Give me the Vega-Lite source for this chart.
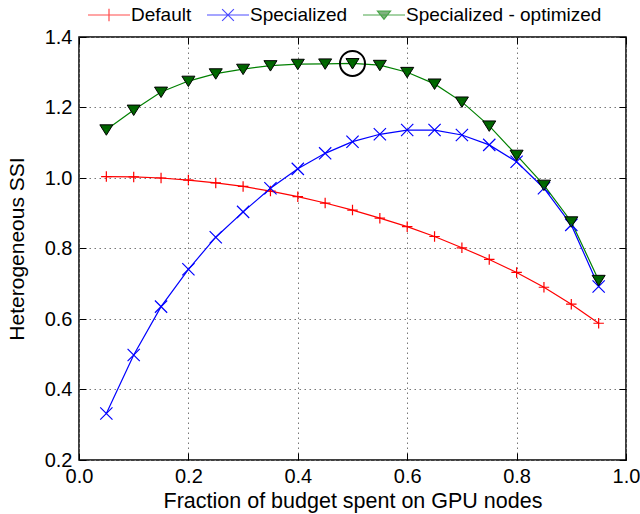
{
  "$schema": "https://vega.github.io/schema/vega-lite/v6.json",
  "width": 547,
  "height": 423,
  "autosize": {"type": "none"},
  "padding": {"left": 79, "top": 37, "right": 14, "bottom": 54},
  "background": "white",
  "config": {
    "view": {"stroke": "black", "strokeWidth": 1.5},
    "font": "Liberation Sans",
    "axis": {"labelFont": "Liberation Sans", "titleFont": "Liberation Sans", "labelColor": "black", "titleColor": "black", "titleFontWeight": "normal", "labelFlush": false},
    "legend": {"labelFont": "Liberation Sans", "symbolStrokeWidth": 1.2, "labelFontSize": 19, "labelColor": "black",
               "labelOffset": 0, "columnPadding": 12, "padding": 0, "labelLimit": 400}
  },
  "datasets": {
    "main": [
      {"x": 0.05, "y": 1.004, "s": "Default"},
      {"x": 0.10, "y": 1.003, "s": "Default"},
      {"x": 0.15, "y": 1.000, "s": "Default"},
      {"x": 0.20, "y": 0.994, "s": "Default"},
      {"x": 0.25, "y": 0.986, "s": "Default"},
      {"x": 0.30, "y": 0.976, "s": "Default"},
      {"x": 0.35, "y": 0.963, "s": "Default"},
      {"x": 0.40, "y": 0.947, "s": "Default"},
      {"x": 0.45, "y": 0.929, "s": "Default"},
      {"x": 0.50, "y": 0.909, "s": "Default"},
      {"x": 0.55, "y": 0.886, "s": "Default"},
      {"x": 0.60, "y": 0.862, "s": "Default"},
      {"x": 0.65, "y": 0.834, "s": "Default"},
      {"x": 0.70, "y": 0.802, "s": "Default"},
      {"x": 0.75, "y": 0.769, "s": "Default"},
      {"x": 0.80, "y": 0.732, "s": "Default"},
      {"x": 0.85, "y": 0.690, "s": "Default"},
      {"x": 0.90, "y": 0.642, "s": "Default"},
      {"x": 0.95, "y": 0.588, "s": "Default"},
      {"x": 0.05, "y": 0.332, "s": "Specialized"},
      {"x": 0.10, "y": 0.498, "s": "Specialized"},
      {"x": 0.15, "y": 0.635, "s": "Specialized"},
      {"x": 0.20, "y": 0.741, "s": "Specialized"},
      {"x": 0.25, "y": 0.832, "s": "Specialized"},
      {"x": 0.30, "y": 0.904, "s": "Specialized"},
      {"x": 0.35, "y": 0.971, "s": "Specialized"},
      {"x": 0.40, "y": 1.026, "s": "Specialized"},
      {"x": 0.45, "y": 1.070, "s": "Specialized"},
      {"x": 0.50, "y": 1.103, "s": "Specialized"},
      {"x": 0.55, "y": 1.124, "s": "Specialized"},
      {"x": 0.60, "y": 1.136, "s": "Specialized"},
      {"x": 0.65, "y": 1.136, "s": "Specialized"},
      {"x": 0.70, "y": 1.122, "s": "Specialized"},
      {"x": 0.75, "y": 1.094, "s": "Specialized"},
      {"x": 0.80, "y": 1.046, "s": "Specialized"},
      {"x": 0.85, "y": 0.971, "s": "Specialized"},
      {"x": 0.90, "y": 0.867, "s": "Specialized"},
      {"x": 0.95, "y": 0.692, "s": "Specialized"},
      {"x": 0.05, "y": 1.137, "s": "Specialized - optimized"},
      {"x": 0.10, "y": 1.193, "s": "Specialized - optimized"},
      {"x": 0.15, "y": 1.244, "s": "Specialized - optimized"},
      {"x": 0.20, "y": 1.275, "s": "Specialized - optimized"},
      {"x": 0.25, "y": 1.296, "s": "Specialized - optimized"},
      {"x": 0.30, "y": 1.309, "s": "Specialized - optimized"},
      {"x": 0.35, "y": 1.319, "s": "Specialized - optimized"},
      {"x": 0.40, "y": 1.323, "s": "Specialized - optimized"},
      {"x": 0.45, "y": 1.324, "s": "Specialized - optimized"},
      {"x": 0.50, "y": 1.325, "s": "Specialized - optimized"},
      {"x": 0.55, "y": 1.320, "s": "Specialized - optimized"},
      {"x": 0.60, "y": 1.300, "s": "Specialized - optimized"},
      {"x": 0.65, "y": 1.267, "s": "Specialized - optimized"},
      {"x": 0.70, "y": 1.216, "s": "Specialized - optimized"},
      {"x": 0.75, "y": 1.148, "s": "Specialized - optimized"},
      {"x": 0.80, "y": 1.065, "s": "Specialized - optimized"},
      {"x": 0.85, "y": 0.980, "s": "Specialized - optimized"},
      {"x": 0.90, "y": 0.876, "s": "Specialized - optimized"},
      {"x": 0.95, "y": 0.710, "s": "Specialized - optimized"}
    ],
    "best": [
      {"x": 0.5, "y": 1.325}
    ]
  },
  "resolve": {"axis": {"x": "independent", "y": "independent"}},
  "layer": [
    {
      "data": {"name": "main"},
      "mark": {"type": "line", "strokeWidth": 1.2},
      "encoding": {
        "x": {"field": "x", "type": "quantitative",
              "scale": {"domain": [0, 1], "nice": false, "zero": false},
              "axis": {"values": [0, 0.2, 0.4, 0.6, 0.8, 1.0], "format": ".1f", "title": "Fraction of budget spent on GPU nodes",
                       "labelFontSize": 20, "titleFontSize": 21.5, "domain": false, "grid": true,
                       "gridDash": [1.5, 3.5], "gridColor": "#777777", "gridWidth": 1,
                       "ticks": true, "tickSize": -7, "tickColor": "black", "labelPadding": 13, "titlePadding": 4}},
        "y": {"field": "y", "type": "quantitative",
              "scale": {"domain": [0.2, 1.4], "nice": false, "zero": false},
              "axis": {"values": [0.2, 0.4, 0.6, 0.8, 1.0, 1.2, 1.4], "format": ".1f", "title": "Heterogeneous SSI",
                       "labelFontSize": 20, "titleFontSize": 21, "domain": false, "grid": true,
                       "gridDash": [1.5, 3.5], "gridColor": "#777777", "gridWidth": 1,
                       "ticks": true, "tickSize": -7, "tickColor": "black", "labelPadding": 14, "titlePadding": 17}},
        "color": {"field": "s", "type": "nominal",
                  "scale": {"domain": ["Default", "Specialized", "Specialized - optimized"], "range": ["#ff0000", "#0000ff", "#008000"]},
                  "legend": {"title": null, "orient": "none", "direction": "horizontal", "legendX": 8, "legendY": -44, "symbolSize": 1764}}
      }
    },
    {
      "data": {"name": "main"},
      "transform": [{"filter": "datum.s === 'Default'"}],
      "mark": {"type": "point", "shape": "M-1,0H1M0,-1V1", "size": 110, "filled": false, "stroke": "#ff0000", "strokeWidth": 1.2, "opacity": 1},
      "encoding": {
        "x": {"field": "x", "type": "quantitative", "axis": null},
        "y": {"field": "y", "type": "quantitative", "axis": null}
      }
    },
    {
      "data": {"name": "main"},
      "transform": [{"filter": "datum.s === 'Specialized'"}],
      "mark": {"type": "point", "shape": "M-1,-1L1,1M-1,1L1,-1", "size": 150, "filled": false, "stroke": "#0000ff", "strokeWidth": 1.2, "opacity": 1},
      "encoding": {
        "x": {"field": "x", "type": "quantitative", "axis": null},
        "y": {"field": "y", "type": "quantitative", "axis": null}
      }
    },
    {
      "data": {"name": "main"},
      "transform": [{"filter": "datum.s === 'Specialized - optimized'"}],
      "mark": {"type": "point", "shape": "M-1,-0.75H1L0,0.85Z", "size": 170, "filled": true, "fill": "#006400", "stroke": "black", "strokeWidth": 1, "opacity": 1, "fillOpacity": 1},
      "encoding": {
        "x": {"field": "x", "type": "quantitative", "axis": null},
        "y": {"field": "y", "type": "quantitative", "axis": null}
      }
    },
    {
      "data": {"name": "best"},
      "mark": {"type": "point", "shape": "circle", "size": 625, "filled": false, "stroke": "black", "strokeWidth": 2, "opacity": 1},
      "encoding": {
        "x": {"field": "x", "type": "quantitative",
              "axis": {"orient": "top", "values": [0, 0.2, 0.4, 0.6, 0.8, 1.0], "labels": false, "title": null, "domain": false, "grid": false, "ticks": true, "tickSize": -7, "tickColor": "black"}},
        "y": {"field": "y", "type": "quantitative",
              "axis": {"orient": "right", "values": [0.2, 0.4, 0.6, 0.8, 1.0, 1.2, 1.4], "labels": false, "title": null, "domain": false, "grid": false, "ticks": true, "tickSize": -7, "tickColor": "black"}}
      }
    },
    {
      "data": {"name": "main"},
      "mark": {"type": "point", "size": 2, "strokeWidth": 1.2},
      "encoding": {
        "x": {"field": "x", "type": "quantitative", "axis": null},
        "y": {"field": "y", "type": "quantitative", "axis": null},
        "shape": {"field": "s", "type": "nominal",
                  "scale": {"domain": ["Default", "Specialized", "Specialized - optimized"],
                            "range": ["M-1,0H1M0,-0.3V0.3", "M-1,0H1M-0.28,-0.28L0.28,0.28M-0.28,0.28L0.28,-0.28", "M-1,0H1M-0.31,-0.18H0.31L0,0.2Z"]},
                  "legend": {"title": null, "orient": "none", "direction": "horizontal", "legendX": 8, "legendY": -44, "symbolSize": 1764}},
        "stroke": {"field": "s", "type": "nominal",
                   "scale": {"domain": ["Default", "Specialized", "Specialized - optimized"], "range": ["#ff0000", "#0000ff", "#008000"]},
                   "legend": {"title": null, "orient": "none", "direction": "horizontal", "legendX": 8, "legendY": -44, "symbolSize": 1764}},
        "fill": {"field": "s", "type": "nominal",
                 "scale": {"domain": ["Default", "Specialized", "Specialized - optimized"], "range": ["transparent", "transparent", "#006400"]},
                 "legend": {"title": null, "orient": "none", "direction": "horizontal", "legendX": 8, "legendY": -44, "symbolSize": 1764}}
      }
    }
  ]
}
